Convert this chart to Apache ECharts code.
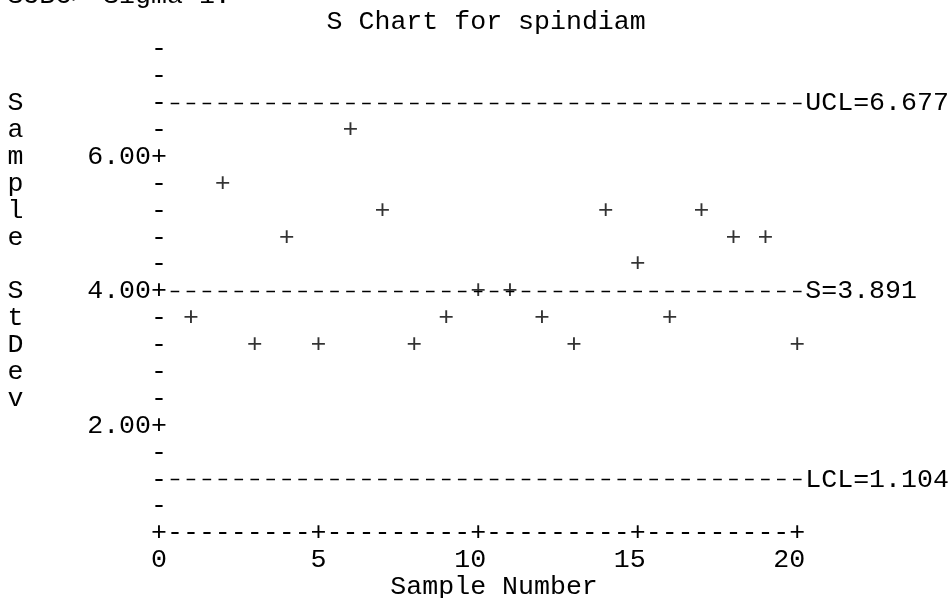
<!DOCTYPE html>
<html>
<head>
<meta charset="utf-8">
<title>S Chart for spindiam</title>
<script src="https://cdn.jsdelivr.net/npm/echarts@6/dist/echarts.min.js"></script>
<style>
  html, body { margin: 0; padding: 0; background: #fff; }
  #chart { width: 951px; height: 598px; }
</style>
</head>
<body>
<div id="chart"></div>
<script>
// values (points sit on printer rows of 0.4)
const sampleNumber = [1, 2, 3, 4, 5, 6, 7, 8, 9, 10, 11, 12, 13, 14, 15, 16, 17, 18, 19, 20];
const sampleStDev = [3.6, 5.6, 3.2, 4.8, 3.2, 6.4, 5.2, 3.2, 3.6, 4.0, 4.0, 3.6, 3.2, 5.2, 4.4, 3.6, 5.2, 4.8, 4.8, 3.2];
const limitNames = ['UCL', 'S', 'LCL'];
const limitValues = [6.677, 3.891, 1.104];
const yTickValues = [2, 4, 6];
const xTickLabels = ['0', '5', '10', '15', '20'];
const promptLine = 'SUBC> Sigma 1.';
const chartTitle = 'S Chart for spindiam';
const yAxisTitle = 'Sample StDev';

// printer grid
const FONT = "'Liberation Mono', 'Courier New', monospace";
const FS = 26.6;
const COL = 15.957; // px per character column
const ROW = 26.89;  // px per printed line
const Y_STEP = 0.4; // data units per printed line
const X_STEP = 0.5; // data units per character column
const X0 = 159;     // pixel centre of column 0 (sample 0)
const Y_TOP = 49.3; // pixel centre of the top printed row
const DASH = 8.6;
const GAP = COL - DASH;

const rowOf = (v) => Math.round(v / Y_STEP) * Y_STEP;

const gridLeft = X0 - COL;
const gridRight = 951 - (X0 + 40 * COL + COL);
const gridTop = Y_TOP;
const gridBottom = 598 - (Y_TOP + 18 * ROW);

const text = { fontFamily: FONT, fontSize: FS, color: '#000' };

// one letter per printed line, padded so the second word's first letter sits on the axis middle
const yName = yAxisTitle.split('').concat([' ', ' ', ' ']).map((c) => (c === ' ' ? ' ' : c)).join('\n');

const chart = echarts.init(document.getElementById('chart'), null, { renderer: 'canvas' });

const xBase = {
  type: 'value',
  position: 'bottom',
  min: -X_STEP,
  max: 20 + X_STEP,
  interval: X_STEP,
  axisLine: { show: false },
  axisTick: { show: false },
  splitLine: { show: false }
};

chart.setOption({
  backgroundColor: '#fff',
  animation: false,
  title: [
    {
      text: promptLine,
      left: X0 - COL / 2 - 9 * COL,
      top: Y_TOP - 2 * ROW - ROW / 2,
      padding: 0,
      textStyle: { ...text, fontWeight: 'normal', lineHeight: ROW }
    },
    {
      text: chartTitle,
      left: X0 - COL / 2 + 11 * COL,
      top: Y_TOP - ROW - ROW / 2,
      padding: 0,
      textStyle: { ...text, fontWeight: 'normal', lineHeight: ROW }
    }
  ],
  grid: {
    left: gridLeft,
    right: gridRight,
    top: gridTop,
    bottom: gridBottom,
    outerBoundsMode: 'none'
  },
  xAxis: [
    {
      ...xBase,
      name: 'Sample Number',
      nameLocation: 'middle',
      nameGap: 2 * ROW,
      nameTextStyle: { ...text, align: 'center', verticalAlign: 'middle', padding: [0, 0, 0, 2 * COL] },
      axisLabel: {
        ...text,
        margin: 0,
        verticalAlign: 'middle',
        showMinLabel: true,
        showMaxLabel: true,
        formatter: (v) => (v < 0 || v > 20 ? '' : v % 5 === 0 ? '+' : '-')
      }
    },
    {
      ...xBase,
      offset: ROW,
      axisLabel: {
        ...text,
        margin: 0,
        verticalAlign: 'middle',
        formatter: (v) => {
          if (v < 0 || v > 20 || v % 5 !== 0) return '';
          const s = xTickLabels[v / 5];
          return s + ' '.repeat(s.length - 1);
        }
      }
    }
  ],
  yAxis: {
    type: 'value',
    position: 'left',
    min: Y_STEP,
    max: 19 * Y_STEP,
    interval: Y_STEP,
    axisLine: { show: false },
    axisTick: { show: false },
    splitLine: { show: false },
    name: yName,
    nameLocation: 'middle',
    nameRotate: 0,
    nameGap: gridLeft - (X0 - 9 * COL),
    nameTextStyle: { ...text, lineHeight: ROW, align: 'center', verticalAlign: 'middle' },
    axisLabel: {
      ...text,
      align: 'right',
      margin: -1.5 * COL,
      showMinLabel: true,
      showMaxLabel: true,
      formatter: (v) => {
        const r = Math.round(v * 10) / 10;
        if (r <= Y_STEP) return '';
        return yTickValues.includes(r) ? r.toFixed(2) + '+' : '-';
      }
    }
  },
  series: [
    {
      type: 'scatter',
      silent: true,
      data: sampleNumber.map((x, i) => [x, sampleStDev[i]]),
      symbol: 'circle',
      symbolSize: 1,
      itemStyle: { color: 'rgba(0,0,0,0)' },
      label: { show: true, position: 'inside', formatter: '+', ...text },
      emphasis: { disabled: true },
      markLine: {
        silent: true,
        symbol: ['none', 'none'],
        lineStyle: { color: '#000', width: 1.4, type: [DASH, GAP], dashOffset: COL - GAP / 2 },
        label: { position: 'end', distance: 0, formatter: '{b}', ...text },
        emphasis: { disabled: true },
        data: limitNames.map((n, i) => [
          { name: n + '=' + limitValues[i].toFixed(3), coord: [X_STEP / 2, rowOf(limitValues[i])] },
          { coord: [20 + X_STEP / 2, rowOf(limitValues[i])] }
        ])
      }
    }
  ]
});
</script>
</body>
</html>
